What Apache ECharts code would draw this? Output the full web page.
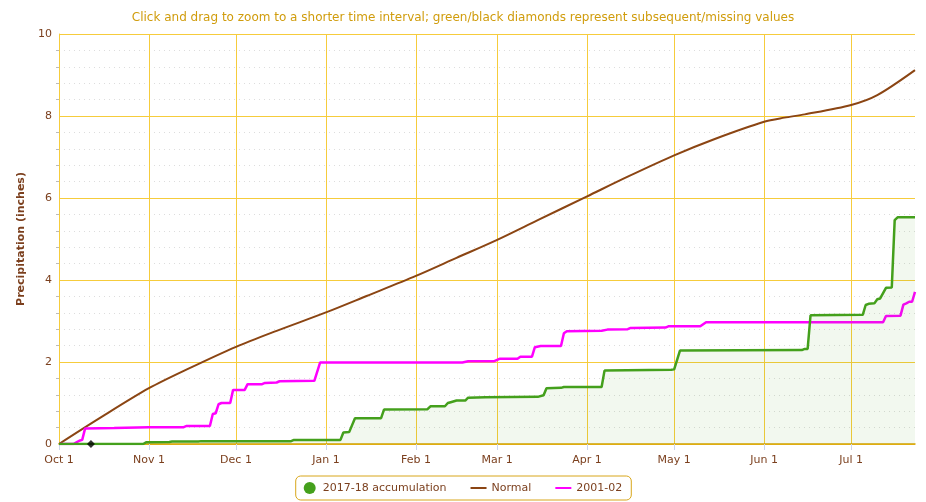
<!DOCTYPE html>
<html>
<head>
<meta charset="utf-8">
<script src="https://cdn.jsdelivr.net/npm/echarts@6/dist/echarts.min.js"></script>
<style>html,body{margin:0;padding:0;background:#fff}#c{width:926px;height:502px}</style>
</head>
<body>
<div id="c"></div>
<script>
const titleText = 'Click and drag to zoom to a shorter time interval; green/black diamonds represent subsequent/missing values';
const xStart = '2017-10-01';
const xEnd = '2018-07-23';
const monthNames = ['Jan','Feb','Mar','Apr','May','Jun','Jul','Aug','Sep','Oct','Nov','Dec'];
const yTicks = [0, 2, 4, 6, 8, 10];

const accum2017 = [
  ['2017-10-01',0],['2017-10-30',0],['2017-10-31',0.04],['2017-11-08',0.05],['2017-11-09',0.06],
  ['2017-11-18',0.06],['2017-11-19',0.07],['2017-12-20',0.07],['2017-12-21',0.1],
  ['2018-01-06',0.1],['2018-01-07',0.28],['2018-01-09',0.29],['2018-01-11',0.63],
  ['2018-01-20',0.63],['2018-01-21',0.84],['2018-02-05',0.85],['2018-02-06',0.92],
  ['2018-02-11',0.92],['2018-02-12',1.0],['2018-02-13',1.02],['2018-02-15',1.06],
  ['2018-02-18',1.06],['2018-02-19',1.13],['2018-02-25',1.14],['2018-03-15',1.15],
  ['2018-03-17',1.19],['2018-03-18',1.36],['2018-03-23',1.37],['2018-03-24',1.39],
  ['2018-04-06',1.39],['2018-04-07',1.79],['2018-04-30',1.81],['2018-05-01',1.82],
  ['2018-05-03',2.28],['2018-06-14',2.29],['2018-06-15',2.32],['2018-06-16',2.32],
  ['2018-06-17',3.14],['2018-07-05',3.15],['2018-07-06',3.39],['2018-07-07',3.42],
  ['2018-07-09',3.43],['2018-07-10',3.53],['2018-07-11',3.55],['2018-07-13',3.81],
  ['2018-07-15',3.82],['2018-07-16',5.46],['2018-07-17',5.53],['2018-07-23',5.53]
];

const normal = [
  ['2017-10-01',0],['2017-10-15',0.63],['2017-11-01',1.36],['2017-11-15',1.85],
  ['2017-12-01',2.37],['2017-12-15',2.76],['2018-01-01',3.21],['2018-01-15',3.61],
  ['2018-02-01',4.10],['2018-02-15',4.54],['2018-03-01',4.98],['2018-03-15',5.46],
  ['2018-04-01',6.04],['2018-04-15',6.52],['2018-05-01',7.04],['2018-05-15',7.44],
  ['2018-06-01',7.86],['2018-06-08',7.96],['2018-06-15',8.04],['2018-07-01',8.27],
  ['2018-07-10',8.51],['2018-07-23',9.12]
];

const season2001 = [
  ['2017-10-01',0],['2017-10-06',0],['2017-10-07',0.04],['2017-10-08',0.08],['2017-10-09',0.1],
  ['2017-10-10',0.38],['2017-10-20',0.39],['2017-11-01',0.41],['2017-11-13',0.41],
  ['2017-11-14',0.44],['2017-11-22',0.44],['2017-11-23',0.73],['2017-11-24',0.75],
  ['2017-11-25',0.97],['2017-11-26',1.0],['2017-11-29',1.0],['2017-11-30',1.32],
  ['2017-12-04',1.32],['2017-12-05',1.46],['2017-12-10',1.46],['2017-12-11',1.49],
  ['2017-12-15',1.5],['2017-12-16',1.53],['2017-12-28',1.54],['2017-12-30',1.99],
  ['2018-02-17',1.99],['2018-02-19',2.02],['2018-02-28',2.02],['2018-03-02',2.08],
  ['2018-03-08',2.08],['2018-03-09',2.13],['2018-03-13',2.13],['2018-03-14',2.36],
  ['2018-03-16',2.39],['2018-03-23',2.39],['2018-03-24',2.7],['2018-03-25',2.75],
  ['2018-04-06',2.76],['2018-04-08',2.79],['2018-04-15',2.8],['2018-04-16',2.83],
  ['2018-04-28',2.84],['2018-04-29',2.87],['2018-05-10',2.87],['2018-05-12',2.97],
  ['2018-07-12',2.97],['2018-07-13',3.12],['2018-07-18',3.13],['2018-07-19',3.4],
  ['2018-07-20',3.43],['2018-07-21',3.47],['2018-07-22',3.47],['2018-07-23',3.71]
];

const missing = [['2017-10-12',0]];

const brown = '#7b3f1d';
const gold = '#f6cc3c';
const font = 'DejaVu Sans';
const lineIcon = 'path://M0,0 L16,0 L16,2 L0,2 Z';

const chart = echarts.init(document.getElementById('c'), null, {renderer:'canvas'});
chart.setOption({
  animation: false,
  textStyle: {fontFamily: font},
  title: {
    text: titleText, left: 'center', top: 7,
    textStyle: {fontFamily: font, fontSize: 12, fontWeight: 'normal', color: '#d09c0c'}
  },
  grid: {left: 59, right: 11, top: 34, bottom: 58},
  legend: {
    bottom: 2, left: 'center',
    borderColor: '#d8a61a', borderWidth: 1, borderRadius: 5,
    padding: [6, 9, 6, 8], itemGap: 24, itemWidth: 16, itemHeight: 12,
    symbolKeepAspect: true,
    textStyle: {color: brown, fontSize: 11, fontFamily: font},
    data: [
      {name: '2017-18 accumulation', icon: 'circle'},
      {name: 'Normal', icon: lineIcon},
      {name: '2001-02', icon: lineIcon}
    ]
  },
  xAxis: {
    type: 'time', min: xStart, max: xEnd,
    splitNumber: 10,
    minInterval: 28 * 86400000,
    axisLine: {show: true, lineStyle: {color: '#d9a300', width: 1.5}},
    axisTick: {show: true, length: 6, lineStyle: {color: '#ccd6eb'}},
    axisLabel: {
      color: brown, fontSize: 11, fontFamily: font, margin: 11,
      showMaxLabel: false,
      formatter: function (v) {
        const d = new Date(v);
        return d.getDate() === 1 ? monthNames[d.getMonth()] + ' 1' : '';
      }
    },
    splitLine: {show: true, showMaxLine: false, lineStyle: {color: gold, width: 1}}
  },
  yAxis: {
    type: 'value', min: yTicks[0], max: yTicks[yTicks.length - 1], interval: 2,
    name: 'Precipitation (inches)', nameLocation: 'middle', nameGap: 27,
    nameTextStyle: {color: brown, fontSize: 11, fontWeight: 'bold', fontFamily: font},
    axisLine: {show: true, lineStyle: {color: gold}},
    axisTick: {show: false},
    minorTick: {show: true, splitNumber: 5, length: 3, lineStyle: {color: '#bbbbbb'}},
    minorSplitLine: {show: true, lineStyle: {color: '#dddddd', type: [1, 4]}},
    axisLabel: {color: brown, fontSize: 11, fontFamily: font, margin: 7},
    splitLine: {show: true, lineStyle: {color: gold, width: 1}}
  },
  series: [
    {
      name: 'Normal', type: 'line', data: normal, symbol: 'none', smooth: 0.3,
      lineStyle: {color: '#8b4513', width: 2}, itemStyle: {color: '#8b4513'}, z: 2
    },
    {
      name: '2001-02', type: 'line', data: season2001, symbol: 'none',
      lineStyle: {color: '#ff00ff', width: 2.5}, itemStyle: {color: '#ff00ff'}, z: 3
    },
    {
      name: '2017-18 accumulation', type: 'line', data: accum2017, symbol: 'none',
      lineStyle: {color: '#44a01c', width: 2.5}, itemStyle: {color: '#44a01c'},
      areaStyle: {color: 'rgba(68,160,28,0.1)'}, z: 4
    },
    {
      name: 'missing', type: 'scatter', data: missing, symbol: 'diamond', symbolSize: 8,
      itemStyle: {color: '#000'}, z: 6
    }
  ]
});
</script>
</body>
</html>
